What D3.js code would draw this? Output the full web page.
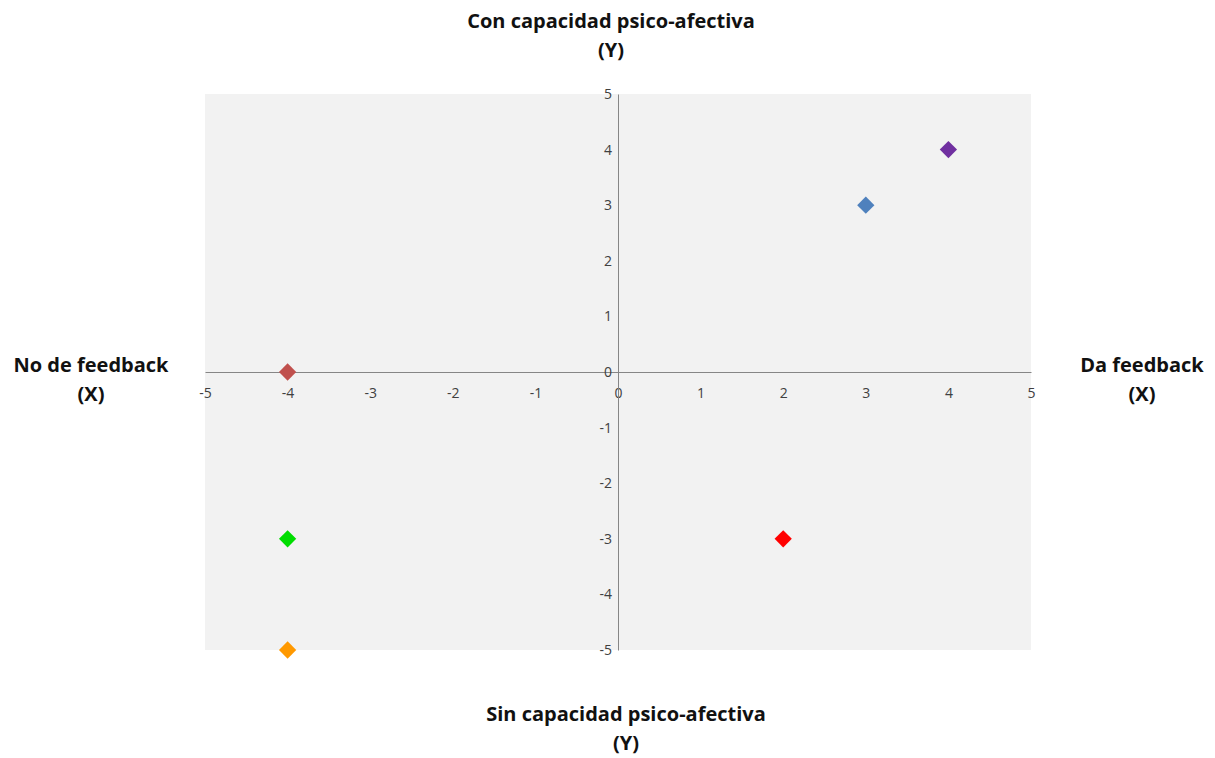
<!DOCTYPE html>
<html>
<head>
<meta charset="utf-8">
<script src="https://cdn.jsdelivr.net/npm/d3@7"></script>
<style>
  html, body { margin: 0; padding: 0; background: #ffffff; }
  svg { display: block; }
  text { font-family: "Open Sans", "Liberation Sans", sans-serif; }
</style>
</head>
<body>
<svg id="chart" width="1215" height="758"></svg>
<script>
// Quadrant positions: feedback (X) vs psycho-affective capacity (Y)
const pointX = [3, 4, -4, -4, -4, 2];
const pointY = [3, 4, 0, -3, -5, -3];
const pointColors = ["#4f81bd", "#7030a0", "#c0504d", "#00dd00", "#ff9900", "#ff0000"];

const xTicks = [-5, -4, -3, -2, -1, 0, 1, 2, 3, 4, 5];
const yTicks = [-5, -4, -3, -2, -1, 0, 1, 2, 3, 4, 5];

const topTitle = ["Con capacidad psico-afectiva", "(Y)"];
const bottomTitle = ["Sin capacidad psico-afectiva", "(Y)"];
const leftTitle = ["No de feedback", "(X)"];
const rightTitle = ["Da feedback", "(X)"];

const svg = d3.select("#chart");
const plot = { left: 205, right: 1031, top: 94, bottom: 650 };

const x = d3.scaleLinear().domain([-5, 5]).range([plot.left, plot.right]);
const y = d3.scaleLinear().domain([-5, 5]).range([plot.bottom, plot.top]);
const fmt = d => String(d);

// plot area background
svg.append("rect")
  .attr("x", plot.left).attr("y", plot.top)
  .attr("width", plot.right - plot.left).attr("height", plot.bottom - plot.top)
  .attr("fill", "#f2f2f2");

// horizontal axis through y = 0
const xAxis = svg.append("g")
  .attr("transform", `translate(0,${y(0)})`)
  .call(d3.axisBottom(x).tickValues(xTicks).tickSize(0).tickPadding(16).tickFormat(fmt));
xAxis.select(".domain").attr("stroke", "#868686").attr("stroke-width", 1);
xAxis.selectAll("text").attr("font-size", 14).attr("fill", "#404040");

// vertical axis through x = 0
const yAxis = svg.append("g")
  .attr("transform", `translate(${x(0)},0)`)
  .call(d3.axisLeft(y).tickValues(yTicks).tickSize(0).tickPadding(6).tickFormat(fmt));
yAxis.select(".domain").attr("stroke", "#868686").attr("stroke-width", 1);
yAxis.selectAll("text").attr("font-size", 14).attr("fill", "#404040");

// diamond markers
const diamond = d3.symbol().type(d3.symbolDiamond2).size(190);
svg.append("g").selectAll("path")
  .data(pointX.map((v, i) => ({ x: v, y: pointY[i], c: pointColors[i] })))
  .join("path")
  .attr("d", diamond)
  .attr("transform", d => `translate(${x(d.x)},${y(d.y)})`)
  .attr("fill", d => d.c);

// quadrant titles
function title(lines, cx, y0) {
  const t = svg.append("text")
    .attr("text-anchor", "middle")
    .attr("font-size", 20)
    .attr("font-weight", "bold")
    .attr("fill", "#111111");
  lines.forEach((s, i) => {
    t.append("tspan").attr("x", cx).attr("y", y0 + i * 29).text(s);
  });
}
title(topTitle, 611, 28);
title(bottomTitle, 626, 721);
title(leftTitle, 91, 372);
title(rightTitle, 1142, 372);
</script>
</body>
</html>
